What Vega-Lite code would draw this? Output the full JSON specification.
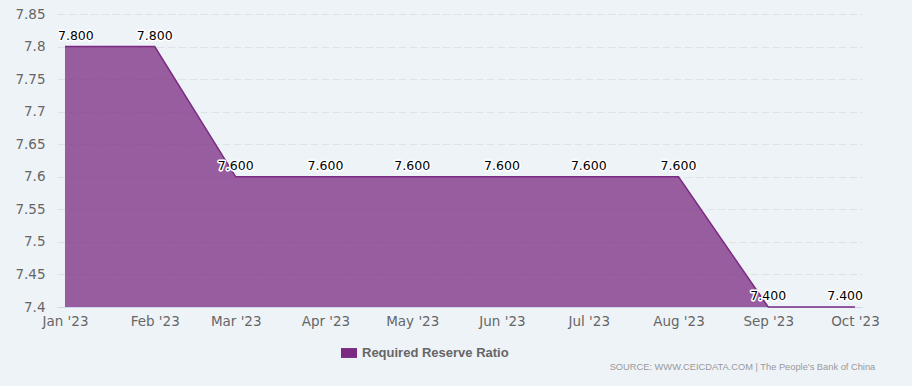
{
  "$schema": "https://vega.github.io/schema/vega-lite/v6.json",
  "autosize": "none",
  "width": 805,
  "height": 293,
  "padding": {"left": 57, "top": 14, "right": 50, "bottom": 79},
  "background": "#eef3f8",
  "config": {
    "view": {"stroke": null},
    "font": "DejaVu Sans"
  },
  "title": {
    "text": "SOURCE: WWW.CEICDATA.COM | The People's Bank of China",
    "orient": "bottom",
    "anchor": "end",
    "font": "Liberation Sans",
    "fontSize": 9.3,
    "fontWeight": "normal",
    "color": "#999999",
    "offset": 3,
    "dx": -4
  },
  "data": {
    "values": [
      {"date": "2023-01-01", "value": 7.8},
      {"date": "2023-02-01", "value": 7.8},
      {"date": "2023-03-01", "value": 7.6},
      {"date": "2023-04-01", "value": 7.6},
      {"date": "2023-05-01", "value": 7.6},
      {"date": "2023-06-01", "value": 7.6},
      {"date": "2023-07-01", "value": 7.6},
      {"date": "2023-08-01", "value": 7.6},
      {"date": "2023-09-01", "value": 7.4},
      {"date": "2023-10-01", "value": 7.4}
    ]
  },
  "encoding": {
    "x": {
      "field": "date",
      "type": "temporal",
      "scale": {
        "type": "utc",
        "domain": [
          {"year": 2022, "month": 12, "date": 29, "hours": 5, "minutes": 45, "utc": true},
          {"year": 2023, "month": 10, "date": 3, "hours": 10, "utc": true}
        ]
      },
      "axis": {
        "title": null,
        "tickCount": {"interval": "month", "step": 1},
        "labelExpr": "utcFormat(datum.value, \"%b '%y\")",
        "grid": false,
        "ticks": false,
        "domain": true,
        "domainColor": "#ccd6eb",
        "domainWidth": 1,
        "labelFontSize": 13.5,
        "labelColor": "#666666",
        "labelPadding": 7,
        "labelFont": "DejaVu Sans"
      }
    },
    "y": {
      "field": "value",
      "type": "quantitative",
      "scale": {"domain": [7.4, 7.85], "zero": false, "nice": false},
      "axis": {
        "title": null,
        "values": [7.4, 7.45, 7.5, 7.55, 7.6, 7.65, 7.7, 7.75, 7.8, 7.85],
        "format": "~f",
        "domain": false,
        "ticks": false,
        "grid": true,
        "gridColor": "#dde3e8",
        "gridDash": [8, 3],
        "gridWidth": 1,
        "labelFontSize": 13.5,
        "labelColor": "#666666",
        "labelPadding": 12,
        "labelFont": "DejaVu Sans"
      }
    }
  },
  "layer": [
    {
      "mark": {"type": "area", "fillOpacity": 0.75},
      "encoding": {
        "y2": {"datum": 7.4},
        "color": {
          "datum": "Required Reserve Ratio",
          "type": "nominal",
          "scale": {"range": ["#7b2b82"]},
          "legend": {
            "title": null,
            "orient": "none",
            "legendX": 284,
            "legendY": 331,
            "padding": 0,
            "symbolType": "M-1,-0.62H1V0.62H-1Z",
            "symbolSize": 256,
            "symbolOpacity": 1,
            "symbolStrokeWidth": 0,
            "labelFont": "Liberation Sans",
            "labelFontSize": 13,
            "labelFontWeight": "bold",
            "labelColor": "#666666",
            "labelOffset": 5
          }
        }
      }
    },
    {
      "mark": {"type": "line", "color": "#7b2b82", "strokeWidth": 1.5},
      "encoding": {}
    },
    {
      "transform": [{"filter": "month(datum.date) > 0 && month(datum.date) < 9"}],
      "encoding": {"text": {"field": "value", "type": "quantitative", "format": ".3f"}},
      "layer": [
        {"mark": {"type": "text", "fontSize": 12.5, "baseline": "alphabetic", "dy": -7, "color": "#ffffff", "stroke": "#ffffff", "strokeWidth": 3, "strokeJoin": "round"}},
        {"mark": {"type": "text", "fontSize": 12.5, "baseline": "alphabetic", "dy": -7, "color": "#000000"}}
      ]
    },
    {
      "transform": [{"filter": "month(datum.date) == 0"}],
      "encoding": {"text": {"field": "value", "type": "quantitative", "format": ".3f"}},
      "layer": [
        {"mark": {"type": "text", "fontSize": 12.5, "align": "left", "dx": -7, "baseline": "alphabetic", "dy": -7, "color": "#ffffff", "stroke": "#ffffff", "strokeWidth": 3, "strokeJoin": "round"}},
        {"mark": {"type": "text", "fontSize": 12.5, "align": "left", "dx": -7, "baseline": "alphabetic", "dy": -7, "color": "#000000"}}
      ]
    },
    {
      "transform": [{"filter": "month(datum.date) == 9"}],
      "encoding": {"text": {"field": "value", "type": "quantitative", "format": ".3f"}},
      "layer": [
        {"mark": {"type": "text", "fontSize": 12.5, "align": "right", "dx": 8, "baseline": "alphabetic", "dy": -7, "color": "#ffffff", "stroke": "#ffffff", "strokeWidth": 3, "strokeJoin": "round"}},
        {"mark": {"type": "text", "fontSize": 12.5, "align": "right", "dx": 8, "baseline": "alphabetic", "dy": -7, "color": "#000000"}}
      ]
    }
  ]
}
